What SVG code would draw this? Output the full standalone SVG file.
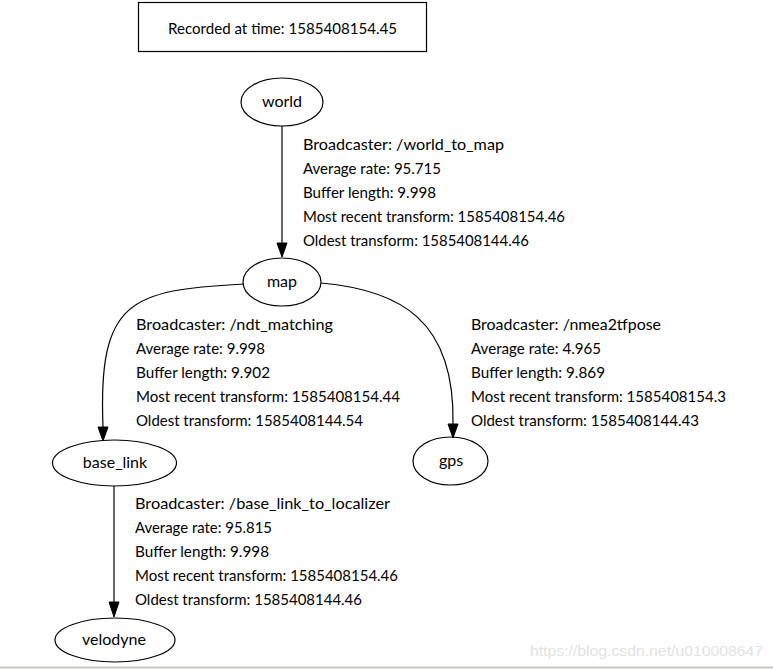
<svg xmlns="http://www.w3.org/2000/svg" width="773" height="669" viewBox="0 0 773 669">
<style>
.node ellipse{fill:none;stroke:#000;stroke-width:1.2}
.box{fill:none;stroke:#000;stroke-width:1.2}
text{font-family:Lato,"Noto Sans",sans-serif;font-size:16px;fill:#000}
.nl{text-anchor:middle}
.edge path{fill:none;stroke:#000;stroke-width:1.2}
.edge polygon{fill:#000;stroke:#000;stroke-width:1}
.wm{font-family:"Liberation Sans",Arial,sans-serif;font-size:15px;fill:#e2e2e2}
</style>
<rect width="773" height="669" fill="#fff"/>
<g id="header">
<rect class="box" x="138.5" y="2.5" width="288" height="49"/>
<text x="168" y="34" textLength="229" lengthAdjust="spacingAndGlyphs">Recorded at time: 1585408154.45</text>
</g>
<g id="connectors" class="edge">
<g id="e-world-map">
<path d="M282,126 L282,243"/>
<polygon points="277,243 287,243 282,257"/>
</g>
<g id="e-map-base_link">
<path d="M244,284 C130,290 98,300 103,427"/>
<polygon points="98,427 108,427 103,441"/>
</g>
<g id="e-map-gps">
<path d="M321,283 C400,290 455,320 453,424"/>
<polygon points="448,424 458,424 453,438"/>
</g>
<g id="e-base_link-velodyne">
<path d="M114,486 L114,602"/>
<polygon points="109,602 119,602 114,617"/>
</g>
</g>
<g id="edge-labels">
<g id="l-world-map">
<text x="303" y="150" textLength="201" lengthAdjust="spacingAndGlyphs">Broadcaster: /world_to_map</text>
<text x="303" y="174" textLength="138" lengthAdjust="spacingAndGlyphs">Average rate: 95.715</text>
<text x="303" y="198" textLength="133" lengthAdjust="spacingAndGlyphs">Buffer length: 9.998</text>
<text x="303" y="222" textLength="262" lengthAdjust="spacingAndGlyphs">Most recent transform: 1585408154.46</text>
<text x="303" y="246" textLength="226" lengthAdjust="spacingAndGlyphs">Oldest transform: 1585408144.46</text>
</g>
<g id="l-map-base_link">
<text x="136" y="330" textLength="197" lengthAdjust="spacingAndGlyphs">Broadcaster: /ndt_matching</text>
<text x="136" y="354" textLength="129" lengthAdjust="spacingAndGlyphs">Average rate: 9.998</text>
<text x="136" y="378" textLength="134" lengthAdjust="spacingAndGlyphs">Buffer length: 9.902</text>
<text x="136" y="402" textLength="264" lengthAdjust="spacingAndGlyphs">Most recent transform: 1585408154.44</text>
<text x="136" y="426" textLength="227" lengthAdjust="spacingAndGlyphs">Oldest transform: 1585408144.54</text>
</g>
<g id="l-map-gps">
<text x="471" y="330" textLength="190" lengthAdjust="spacingAndGlyphs">Broadcaster: /nmea2tfpose</text>
<text x="471" y="354" textLength="130" lengthAdjust="spacingAndGlyphs">Average rate: 4.965</text>
<text x="471" y="378" textLength="134" lengthAdjust="spacingAndGlyphs">Buffer length: 9.869</text>
<text x="471" y="402" textLength="255" lengthAdjust="spacingAndGlyphs">Most recent transform: 1585408154.3</text>
<text x="471" y="426" textLength="228" lengthAdjust="spacingAndGlyphs">Oldest transform: 1585408144.43</text>
</g>
<g id="l-base_link-velodyne">
<text x="135" y="509" textLength="255" lengthAdjust="spacingAndGlyphs">Broadcaster: /base_link_to_localizer</text>
<text x="135" y="533" textLength="137" lengthAdjust="spacingAndGlyphs">Average rate: 95.815</text>
<text x="135" y="557" textLength="134" lengthAdjust="spacingAndGlyphs">Buffer length: 9.998</text>
<text x="135" y="581" textLength="263" lengthAdjust="spacingAndGlyphs">Most recent transform: 1585408154.46</text>
<text x="135" y="605" textLength="227" lengthAdjust="spacingAndGlyphs">Oldest transform: 1585408144.46</text>
</g>
</g>
<g id="world" class="node">
<ellipse cx="282" cy="102" rx="41" ry="24"/>
<text class="nl" x="282" y="107">world</text>
</g>
<g id="map" class="node">
<ellipse cx="282" cy="282" rx="39" ry="24"/>
<text class="nl" x="282" y="287">map</text>
</g>
<g id="base_link" class="node">
<ellipse cx="114.5" cy="463" rx="62" ry="23"/>
<text class="nl" x="115" y="468">base_link</text>
</g>
<g id="gps" class="node">
<ellipse cx="450.5" cy="461" rx="37.5" ry="24"/>
<text class="nl" x="451" y="466">gps</text>
</g>
<g id="velodyne" class="node">
<ellipse cx="115" cy="640" rx="60" ry="22"/>
<text class="nl" x="114" y="645">velodyne</text>
</g>
<text class="wm" x="530" y="656" textLength="233" lengthAdjust="spacingAndGlyphs">https://blog.csdn.net/u010008647</text>
<line x1="0" y1="667.5" x2="773" y2="667.5" stroke="#c8c8c0" stroke-width="2"/>
</svg>
